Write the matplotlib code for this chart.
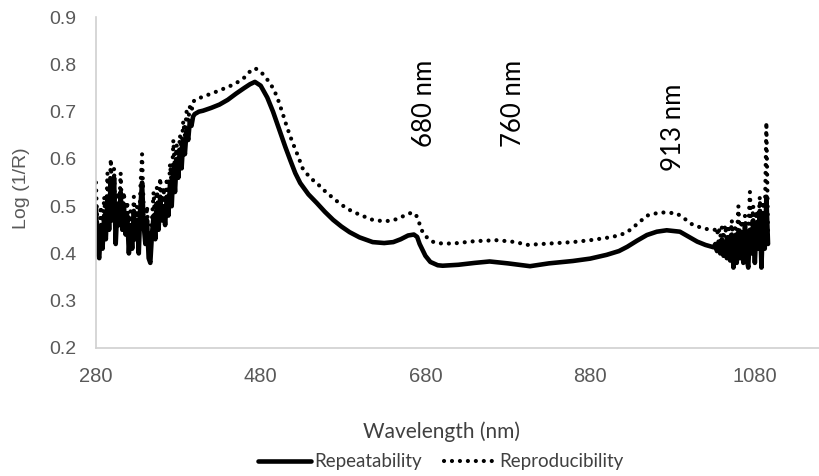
import matplotlib
matplotlib.use("Agg")
import matplotlib.pyplot as plt

# ---------------- data ----------------
wl_left = [280, 282, 284, 286, 288, 290, 292, 294, 296, 298, 300, 302, 304, 306, 308, 310,
           312, 314, 316, 318, 320, 322, 324, 326, 328, 330, 332, 334, 336, 338, 340, 342,
           344, 346, 348, 350, 352, 354, 356, 358, 360, 362, 364, 366, 368, 370, 372, 374,
           376, 378, 380, 382, 384, 386, 388, 390, 392, 394, 396, 398, 400]
rep_left = [0.50, 0.40, 0.39, 0.46, 0.41, 0.48, 0.43, 0.52, 0.45, 0.55, 0.47, 0.56, 0.42, 0.50,
            0.46, 0.53, 0.45, 0.50, 0.44, 0.48, 0.40, 0.46, 0.41, 0.49, 0.43, 0.47, 0.40, 0.50,
            0.55, 0.46, 0.42, 0.47, 0.39, 0.38, 0.44, 0.48, 0.43, 0.50, 0.45, 0.52, 0.47, 0.50,
            0.46, 0.52, 0.48, 0.55, 0.50, 0.58, 0.53, 0.60, 0.56, 0.62, 0.58, 0.64, 0.61, 0.66,
            0.64, 0.68, 0.67, 0.69, 0.695]
rpr_left = [0.55, 0.44, 0.42, 0.50, 0.44, 0.52, 0.46, 0.57, 0.48, 0.60, 0.50, 0.58, 0.45, 0.53,
            0.48, 0.57, 0.47, 0.53, 0.46, 0.51, 0.42, 0.49, 0.43, 0.52, 0.45, 0.50, 0.43, 0.54,
            0.61, 0.49, 0.44, 0.50, 0.42, 0.41, 0.47, 0.53, 0.46, 0.54, 0.48, 0.56, 0.50, 0.54,
            0.49, 0.56, 0.51, 0.59, 0.54, 0.64, 0.57, 0.63, 0.59, 0.65, 0.62, 0.68, 0.65, 0.70,
            0.68, 0.71, 0.70, 0.72, 0.725]

wl_rep_mid = [405, 410, 420, 430, 440, 450, 460, 467, 473, 480, 488, 495, 503, 510, 516, 522,
              528, 538, 548, 558, 568, 578, 588, 600, 616, 630, 641, 650, 659, 666, 670, 673,
              680, 686, 695, 701, 720, 740, 758, 780, 807, 830, 859, 880, 900, 915, 925, 937,
              949, 961, 973, 989, 1000, 1010, 1020, 1030]
rep_mid = [0.700, 0.702, 0.708, 0.715, 0.725, 0.738, 0.750, 0.758, 0.763, 0.755, 0.730, 0.700,
           0.660, 0.625, 0.597, 0.570, 0.549, 0.525, 0.507, 0.488, 0.471, 0.457, 0.445, 0.434,
           0.424, 0.422, 0.424, 0.430, 0.438, 0.440, 0.435, 0.420, 0.395, 0.382, 0.375, 0.374,
           0.376, 0.380, 0.383, 0.379, 0.373, 0.379, 0.384, 0.389, 0.397, 0.405, 0.414, 0.427,
           0.439, 0.446, 0.449, 0.446, 0.435, 0.425, 0.418, 0.413]

wl_rpr_mid = [405, 410, 420, 430, 440, 450, 460, 467, 473, 480, 488, 495, 500, 506, 512, 518,
              524, 531, 540, 548, 558, 568, 578, 588, 600, 616, 630, 641, 652, 661, 666, 669,
              673, 677, 684, 690, 700, 714, 740, 767, 790, 803, 830, 859, 880, 900, 915, 925,
              937, 949, 965, 985, 995, 1005, 1020, 1030]
rpr_mid = [0.728, 0.732, 0.738, 0.745, 0.752, 0.760, 0.772, 0.785, 0.792, 0.785, 0.768, 0.750,
           0.731, 0.700, 0.667, 0.638, 0.612, 0.580, 0.560, 0.549, 0.532, 0.517, 0.503, 0.492,
           0.482, 0.471, 0.468, 0.470, 0.478, 0.485, 0.486, 0.480, 0.462, 0.443, 0.430, 0.424,
           0.421, 0.421, 0.426, 0.428, 0.424, 0.418, 0.421, 0.424, 0.428, 0.433, 0.438, 0.445,
           0.462, 0.480, 0.487, 0.485, 0.473, 0.460, 0.452, 0.450]

wl_right = [1032, 1034, 1036, 1038, 1040, 1042, 1044, 1046, 1048, 1050, 1052, 1054, 1056, 1058,
            1060, 1062, 1064, 1066, 1068, 1070, 1072, 1074, 1076, 1078, 1080, 1082, 1084, 1086,
            1088, 1090, 1092, 1094, 1096]
rep_right = [0.420, 0.405, 0.425, 0.400, 0.430, 0.395, 0.425, 0.390, 0.430, 0.385, 0.440, 0.370,
             0.430, 0.380, 0.445, 0.390, 0.440, 0.380, 0.460, 0.390, 0.370, 0.450, 0.400, 0.470,
             0.380, 0.460, 0.410, 0.490, 0.370, 0.480, 0.410, 0.520, 0.420]
rpr_right = [0.450, 0.440, 0.455, 0.435, 0.455, 0.430, 0.460, 0.425, 0.460, 0.420, 0.470, 0.410,
             0.455, 0.420, 0.500, 0.430, 0.470, 0.420, 0.480, 0.430, 0.450, 0.530, 0.440, 0.500,
             0.430, 0.490, 0.450, 0.520, 0.420, 0.510, 0.460, 0.678, 0.440]

x_ticks = [280, 480, 680, 880, 1080]
y_ticks = [0.2, 0.3, 0.4, 0.5, 0.6, 0.7, 0.8, 0.9]
annotations = [("680 nm", 679, 0.718), ("760 nm", 787, 0.718), ("913 nm", 981, 0.667)]
series_names = ["Repeatability", "Reproducibility"]

# ---------------- figure ----------------
fig = plt.figure(figsize=(8.2, 4.76), dpi=100)
ax = fig.add_axes([0.117, 0.269, 0.904, 0.695])

wl_rep = wl_left + wl_rep_mid + wl_right
rep = rep_left + rep_mid + rep_right
wl_rpr = wl_left + wl_rpr_mid + wl_right
rpr = rpr_left + rpr_mid + rpr_right

ax.plot(wl_rep, rep, color="black", lw=3.3, solid_joinstyle="round",
        solid_capstyle="round", label=series_names[0])
ax.plot(wl_rpr, rpr, color="black", lw=3.0, linestyle=(0, (0.01, 1.9)),
        dash_capstyle="round", label=series_names[1])

ax.set_xlim(280, 1180)
ax.set_ylim(0.2, 0.9)
ax.set_xticks(x_ticks)
ax.set_yticks(y_ticks)
ax.set_yticklabels([f"{v:.1f}" for v in y_ticks])
ax.tick_params(length=0, colors="#595959")
ax.tick_params(axis="x", pad=14, labelsize=14.5)
ax.tick_params(axis="y", pad=14, labelsize=14)
for lab in ax.get_xticklabels() + ax.get_yticklabels():
    lab.set_family("Liberation Sans")
for s in ["top", "right"]:
    ax.spines[s].set_visible(False)
for s in ["left", "bottom"]:
    ax.spines[s].set_color("#d0d0d0")
    ax.spines[s].set_linewidth(1.2)

for txt, xv, yv in annotations:
    ax.text(xv, yv, txt, rotation=90, ha="center", va="center",
            fontsize=18.5, family="Lato", color="black")

fig.text(22 / 820, 1 - 188 / 476, "Log (1/R)", rotation=90, ha="center", va="center",
         fontsize=14, family="Liberation Sans", color="#595959")
fig.text(442 / 820, 1 - 432 / 476, "Wavelength (nm)", ha="center", va="center",
         fontsize=15, family="Lato", color="#404040")

leg = fig.legend(loc="center", bbox_to_anchor=(441 / 820, 1 - 462 / 476), ncol=2,
                 frameon=False, prop={"family": "Lato", "size": 13.5},
                 handlelength=2.8, handletextpad=0.15, columnspacing=1.2,
                 borderaxespad=0, borderpad=0)
for t in leg.get_texts():
    t.set_color("#404040")

fig.savefig("out.png", dpi=100)
